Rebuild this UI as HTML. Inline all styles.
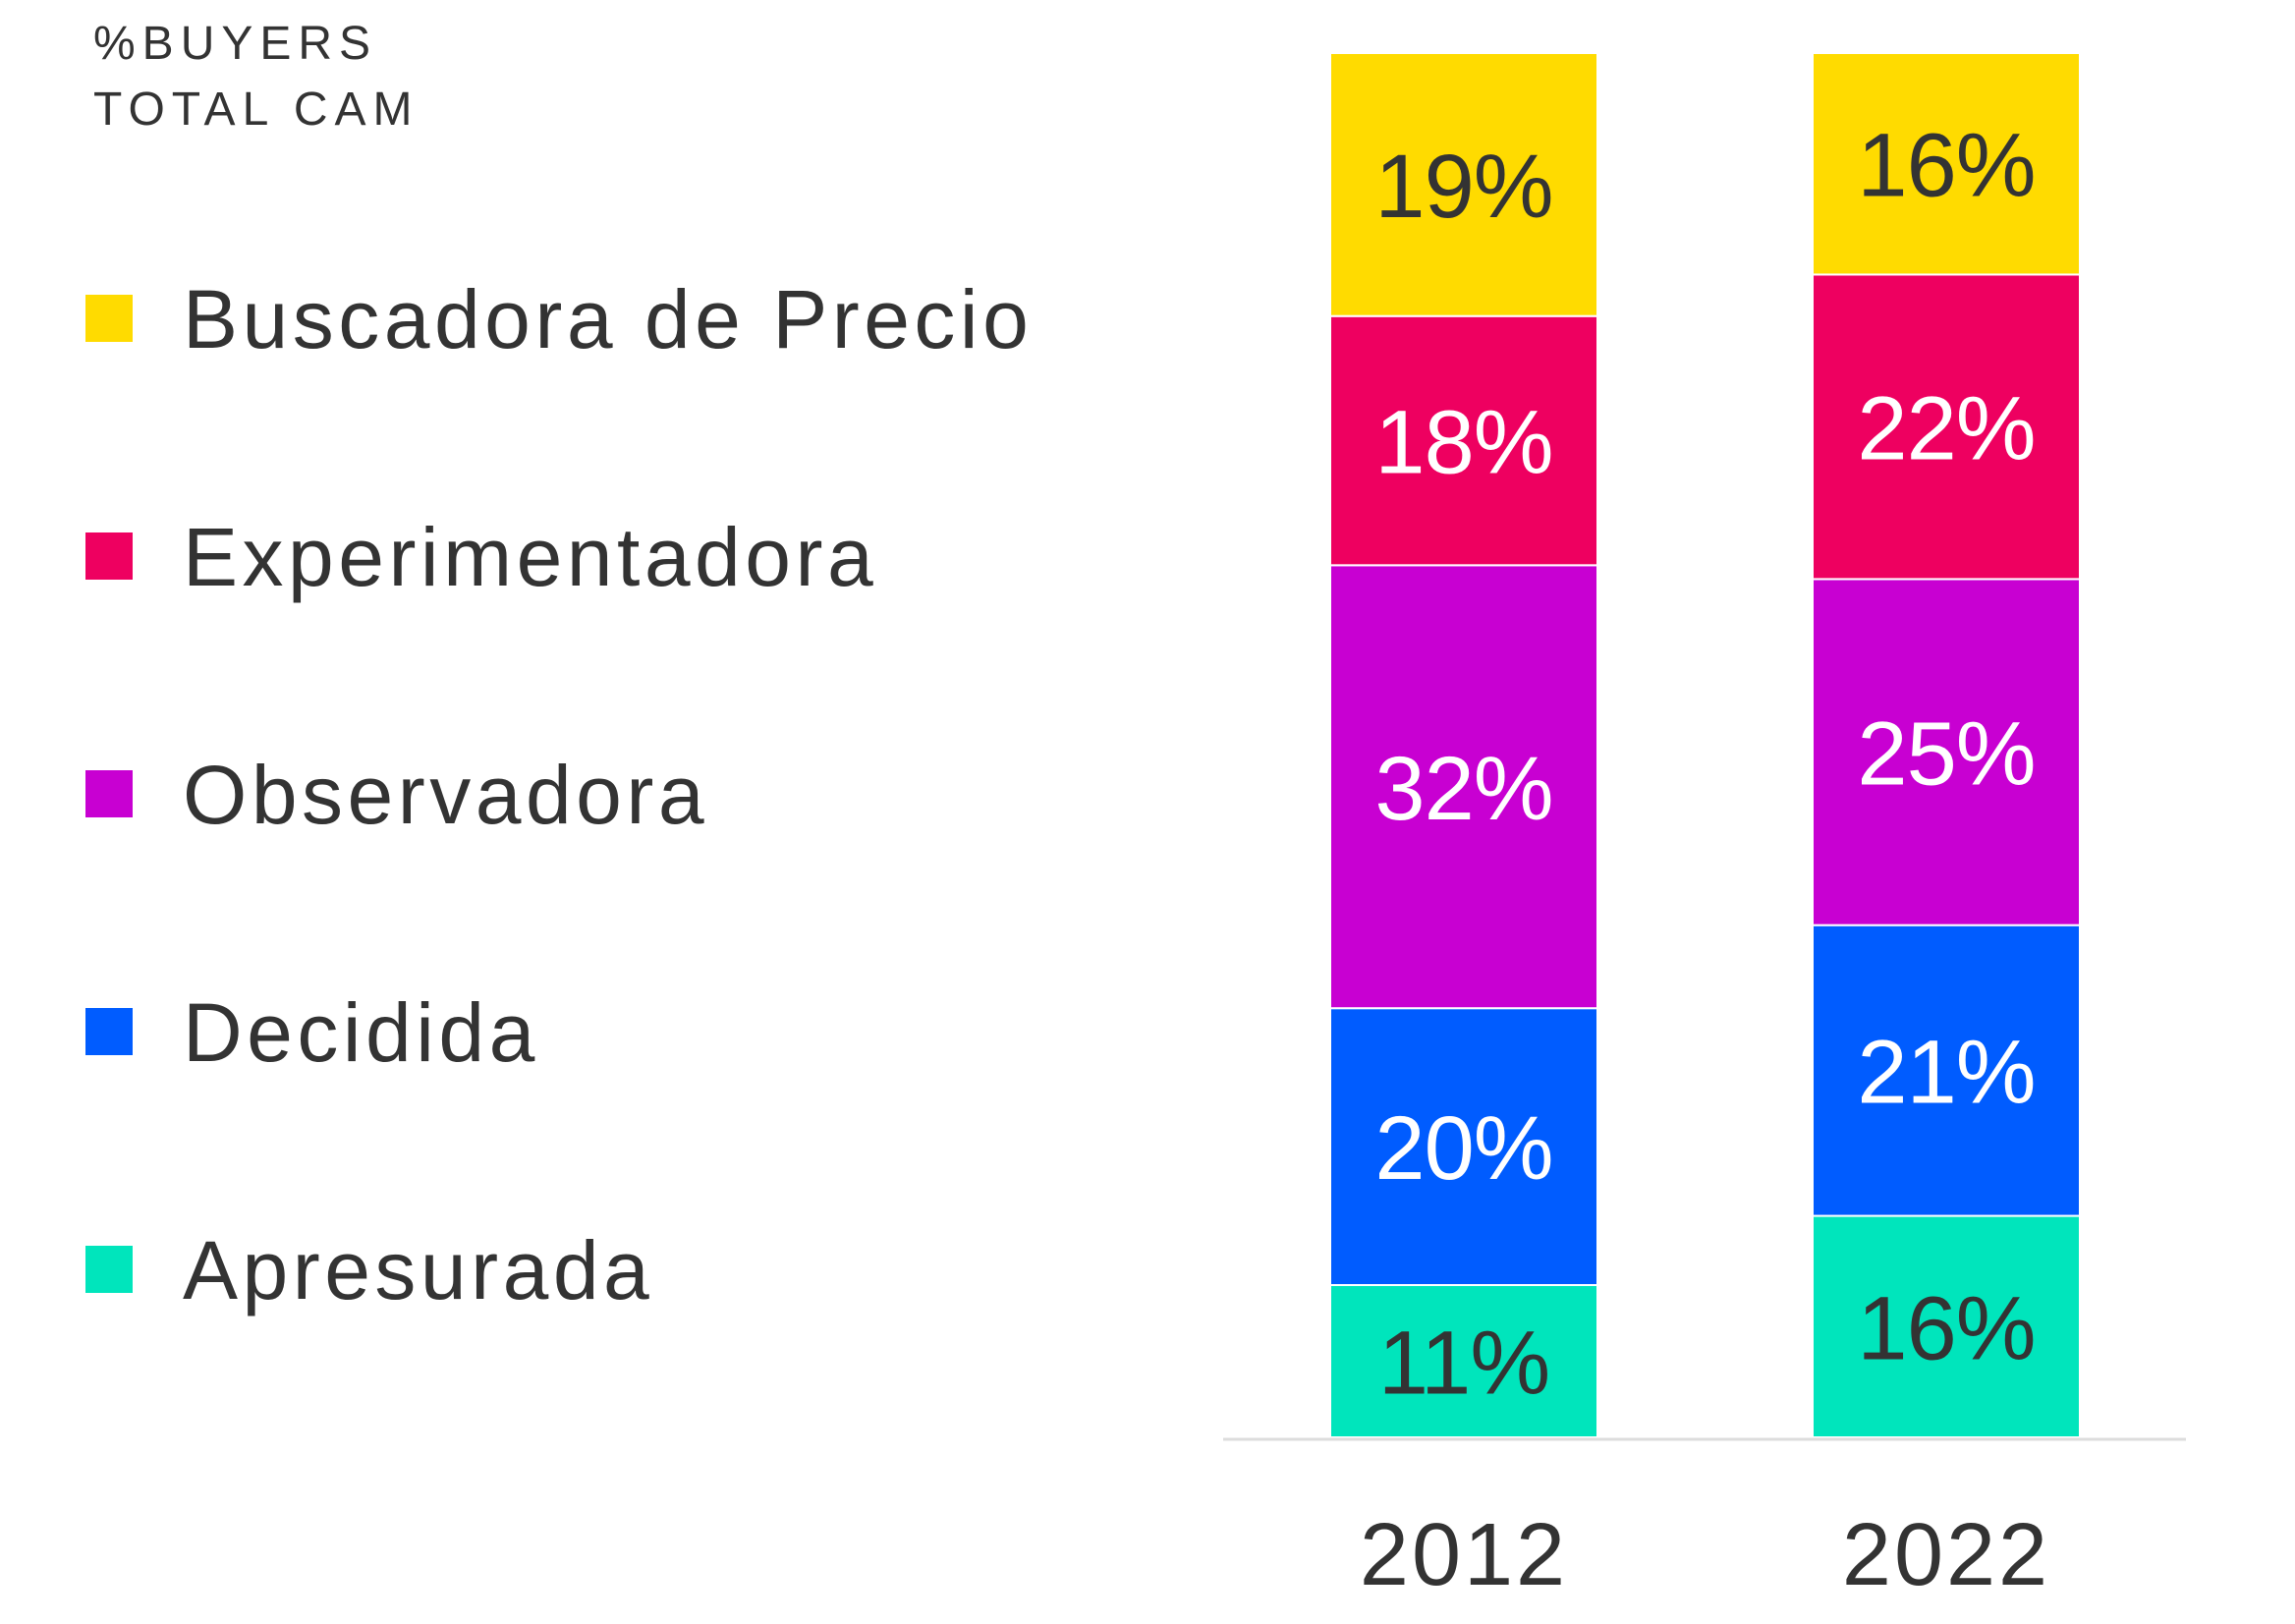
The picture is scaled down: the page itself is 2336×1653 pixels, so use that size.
<!DOCTYPE html>
<html><head><meta charset="utf-8"><style>
body{margin:0;background:#fff;width:2336px;height:1648px;overflow:hidden;font-family:"Liberation Sans",sans-serif}
</style></head><body>
<svg width="2336" height="1648">
<g id="legend"></g>
<g id="bars"></g>
</svg>
<script>
const categories=["2012","2022"];
const seriesNames=["Apresurada","Decidida","Observadora","Experimentadora","Buscadora de Precio"];
const apresurada=[11,16];
const decidida=[20,21];
const observadora=[32,25];
const experimentadora=[18,22];
const buscadora=[19,16];
const series=[apresurada,decidida,observadora,experimentadora,buscadora];
const colors=["#00E5BC","#005CFF","#C800D2","#EE0060","#FFDB00"];
const labelColors=["#333","#fff","#fff","#fff","#333"];
const NS="http://www.w3.org/2000/svg";
const svg=document.querySelector('svg');
function mk(t,a,p){const e=document.createElementNS(NS,t);for(const k in a)e.setAttribute(k,a[k]);(p||svg).appendChild(e);return e;}
const base=1463, top0=54;
const y=v=>base-(base-top0)*v/100;
const xc=i=>1490+i*491;
const bw=272;
const bars=document.getElementById('bars');
const t=mk('text',{x:95,y:60,'font-size':48,fill:'#333','letter-spacing':7});
t.textContent='%BUYERS';


const t2=mk('text',{x:95,y:127,'font-size':48,fill:'#333','letter-spacing':7});
t2.textContent='TOTAL CAM';


categories.forEach((c,i)=>{
  let cum=0;
  series.forEach((s,j)=>{
    const v=s[i];
    const y1=y(cum+v), y0=y(cum);
    const r=mk('rect',{x:xc(i)-bw/2,y:y1,width:bw,height:y0-y1,fill:colors[j],stroke:'#fff','stroke-width':2},bars);
    
    
    const l=mk('text',{x:xc(i),y:(y0+y1)/2+33,'font-size':92,fill:labelColors[j],'text-anchor':'middle','letter-spacing':-1},bars);
    l.textContent=v+'%';
    
    
    cum+=v;
  });
  const yl=mk('text',{x:xc(i),y:1613,'font-size':90,fill:'#333','text-anchor':'middle','letter-spacing':3});
  yl.textContent=c;
  
  
});
const ax=mk('line',{x1:1245,x2:2225,y1:1465,y2:1465,stroke:'#ddd','stroke-width':3});


const lg=document.getElementById('legend');
for(let k=0;k<5;k++){
  const j=4-k;
  const cy=324+k*242;
  const sq=mk('rect',{x:87,y:cy-24,width:48,height:48,fill:colors[j]},lg);
  
  
  const tx=mk('text',{x:186,y:cy+30,'font-size':84,fill:'#333','letter-spacing':4.5},lg);
  tx.textContent=seriesNames[j];
  
  
}
</script>
</body></html>
